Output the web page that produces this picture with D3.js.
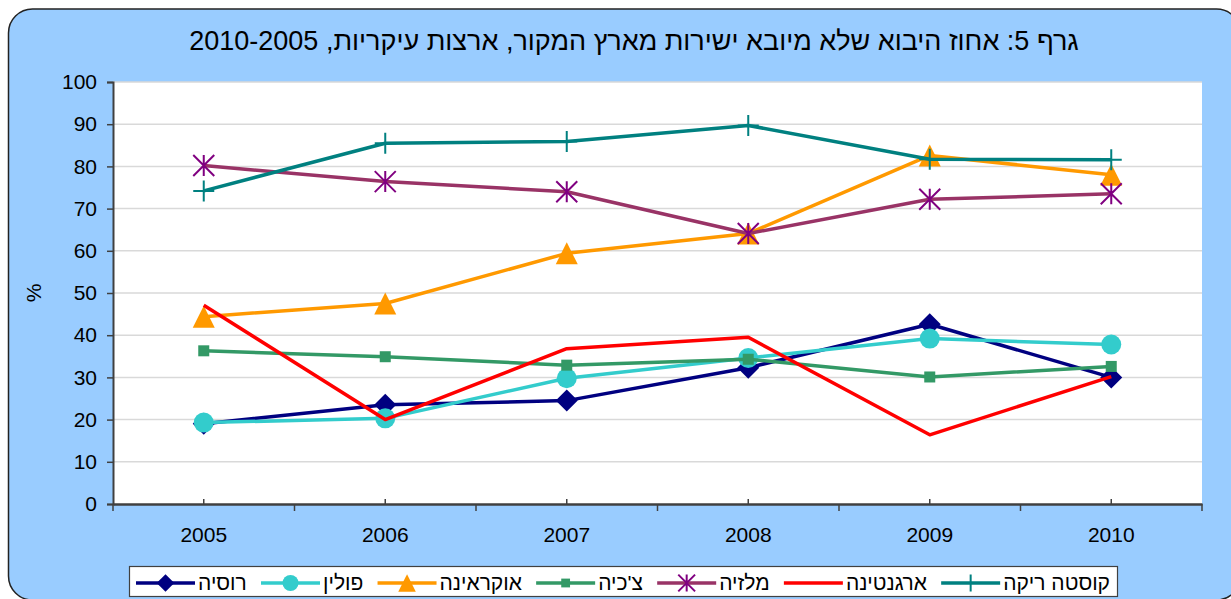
<!DOCTYPE html>
<html>
<head>
<meta charset="utf-8">
<script src="https://cdn.jsdelivr.net/npm/d3@7"></script>
<style>
  html, body { margin: 0; padding: 0; background: #fff; }
  svg { display: block; font-family: "Liberation Sans", Arial, sans-serif; }
</style>
</head>
<body>
<div id="viz-container"></div>
<script>
// data
const years = [2005, 2006, 2007, 2008, 2009, 2010];
const yTicks = [0, 10, 20, 30, 40, 50, 60, 70, 80, 90, 100];

const russia    = [19.0, 23.5, 24.5, 32.3, 42.6, 30.0];
const poland    = [19.3, 20.3, 29.8, 34.6, 39.2, 37.8];
const ukraine   = [44.4, 47.5, 59.4, 64.1, 82.6, 78.0];
const czech     = [36.3, 34.9, 32.9, 34.3, 30.1, 32.6];
const malaysia  = [80.2, 76.4, 74.0, 64.1, 72.2, 73.5];
const argentina = [47.1, 20.0, 36.8, 39.5, 16.4, 30.2];
const costaRica = [74.2, 85.5, 85.9, 89.7, 81.7, 81.6];

const seriesNames = ["רוסיה", "פולין", "אוקראינה", "צ'כיה", "מלזיה", "ארגנטינה", "קוסטה ריקה"];
const seriesValues = [russia, poland, ukraine, czech, malaysia, argentina, costaRica];
const lineColors = ["#000080", "#33CCCC", "#FF9900", "#339966", "#993366", "#FF0000", "#008080"];
const markerColors = ["#000080", "#33CCCC", "#FF9900", "#339966", "#800080", "#FF0000", "#008080"];
const markerTypes = ["diamond", "circle", "triangle", "square", "star", "none", "plus"];

const titleText = "גרף 5: אחוז היבוא שלא מיובא ישירות מארץ המקור, ארצות עיקריות, 2010-2005";
const yLabel = "%";

const W = 1231, H = 599;
const svg = d3.select("#viz-container")
    .append("svg")
    .attr("width", W)
    .attr("height", H);

// chart area background (rounded frame, runs off the right/bottom edge)
svg.append("rect")
    .attr("x", 8.5).attr("y", 9)
    .attr("width", 1232).attr("height", 591)
    .attr("rx", 24).attr("ry", 24)
    .attr("fill", "#99CCFF")
    .attr("stroke", "#222")
    .attr("stroke-width", 1.5);

const plot = { left: 113, right: 1202, top: 82, bottom: 504 };

// scales
const xBand = d3.scaleBand()
    .domain(years)
    .range([plot.left, plot.right]);
const xc = d => xBand(d) + xBand.bandwidth() / 2;

const y = d3.scaleLinear()
    .domain([0, 100])
    .range([plot.bottom, plot.top]);

// plot area
svg.append("rect")
    .attr("x", plot.left).attr("y", plot.top)
    .attr("width", plot.right - plot.left)
    .attr("height", plot.bottom - plot.top)
    .attr("fill", "#fff");

// gridlines
svg.append("g")
    .selectAll("line")
    .data(yTicks.filter(t => t > 0))
    .join("line")
    .attr("x1", plot.left).attr("x2", plot.right)
    .attr("y1", d => y(d)).attr("y2", d => y(d))
    .attr("stroke", "#D9D9D9")
    .attr("stroke-width", 1.5);

// y axis
const yAxis = svg.append("g")
    .attr("transform", `translate(${plot.left},0)`)
    .call(d3.axisLeft(y).tickValues(yTicks).tickSize(6).tickPadding(10));
yAxis.select(".domain").attr("stroke", "#404040").attr("stroke-width", 2);
yAxis.selectAll(".tick line").attr("stroke", "#404040").attr("stroke-width", 1.5);
yAxis.selectAll(".tick text")
    .attr("font-size", "21px")
    .attr("fill", "#000")
    .attr("font-family", "Liberation Sans, Arial, sans-serif");

// x axis: small inner ticks at category centres, outer ticks at boundaries
const xAxis = svg.append("g")
    .attr("transform", `translate(0,${plot.bottom})`)
    .call(d3.axisBottom(xBand).tickSize(-5).tickSizeOuter(0).tickPadding(23));
xAxis.select(".domain").attr("stroke", "#404040").attr("stroke-width", 2.5);
xAxis.selectAll(".tick line").attr("stroke", "#404040").attr("stroke-width", 1.5);
xAxis.selectAll(".tick text")
    .attr("font-size", "21px")
    .attr("fill", "#000")
    .attr("font-family", "Liberation Sans, Arial, sans-serif");

const bounds = years.map(d => xBand(d)).concat([plot.right]);
xAxis.selectAll(".bound")
    .data(bounds)
    .join("line")
    .attr("class", "bound")
    .attr("x1", d => d).attr("x2", d => d)
    .attr("y1", 0).attr("y2", 7)
    .attr("stroke", "#404040")
    .attr("stroke-width", 1.5);

// marker drawing
function drawMarker(g, type, color, s) {
    s = s || 1;
    if (type === "diamond") {
        const r = 11 * s;
        g.append("path").attr("d", `M0,${-r}L${r},0L0,${r}L${-r},0Z`).attr("fill", color);
    } else if (type === "circle") {
        g.append("circle").attr("r", 10 * s).attr("fill", color);
    } else if (type === "triangle") {
        const r = 11 * s;
        g.append("path").attr("d", `M0,${-r}L${r},${r}L${-r},${r}Z`).attr("fill", color);
    } else if (type === "square") {
        const r = 5.5 * s;
        g.append("rect").attr("x", -r).attr("y", -r).attr("width", 2 * r).attr("height", 2 * r).attr("fill", color);
    } else if (type === "star") {
        const r = 10.5 * s;
        g.append("path")
            .attr("d", `M${-r},${-r}L${r},${r}M${-r},${r}L${r},${-r}M0,${-r}L0,${r}`)
            .attr("stroke", color).attr("stroke-width", 2).attr("fill", "none");
    } else if (type === "plus") {
        const r = 10.5 * s;
        g.append("path")
            .attr("d", `M${-r},0L${r},0M0,${-r}L0,${r}`)
            .attr("stroke", color).attr("stroke-width", 2).attr("fill", "none");
    }
}

// lines and markers
const line = d3.line()
    .x((d, i) => xc(years[i]))
    .y(d => y(d));

seriesValues.forEach((vals, k) => {
    const g = svg.append("g");
    g.append("path")
        .datum(vals)
        .attr("fill", "none")
        .attr("stroke", lineColors[k])
        .attr("stroke-width", 3.5)
        .attr("stroke-linejoin", "round")
        .attr("d", line);
    vals.forEach((v, i) => {
        const m = g.append("g").attr("transform", `translate(${xc(years[i])},${y(v)})`);
        drawMarker(m, markerTypes[k], markerColors[k]);
    });
});

// title
svg.append("text")
    .attr("x", 634)
    .attr("y", 50)
    .attr("text-anchor", "middle")
    .attr("direction", "rtl")
    .attr("font-size", "27px")
    .attr("fill", "#000")
    .text(titleText);

// y label
svg.append("text")
    .attr("transform", `translate(41,${y(50)}) rotate(-90)`)
    .attr("text-anchor", "middle")
    .attr("font-size", "21px")
    .text(yLabel);

// legend: fixed box, entries spread evenly inside it
const leg = { x: 129, y: 566, w: 988, h: 30, pad: 7, sym: 59, gapText: 3 };
const legend = svg.append("g");
legend.append("rect")
    .attr("x", leg.x + 0.5).attr("y", leg.y + 0.5)
    .attr("width", leg.w).attr("height", leg.h)
    .attr("fill", "#fff")
    .attr("stroke", "#404040")
    .attr("stroke-width", 1.2);

const ly = leg.y + 17;
const items = seriesNames.map((name, k) => {
    const g = legend.append("g");
    const t = g.append("text")
        .attr("y", ly + 7)
        .attr("font-size", "21px")
        .attr("fill", "#000")
        .text(name);
    return { g, t, k, w: leg.sym + leg.gapText + t.node().getComputedTextLength() };
});
const used = d3.sum(items, d => d.w);
const gap = (leg.w - 2 * leg.pad - used) / (items.length - 1);
let lx = leg.x + leg.pad;
items.forEach(({ g, t, k, w }) => {
    g.insert("line", "text")
        .attr("x1", lx).attr("x2", lx + leg.sym)
        .attr("y1", ly).attr("y2", ly)
        .attr("stroke", lineColors[k]).attr("stroke-width", 3.5);
    const m = g.insert("g", "text").attr("transform", `translate(${lx + leg.sym / 2},${ly})`);
    drawMarker(m, markerTypes[k], markerColors[k], 0.8);
    t.attr("x", lx + leg.sym + leg.gapText);
    lx += w + gap;
});
</script>
</body>
</html>
